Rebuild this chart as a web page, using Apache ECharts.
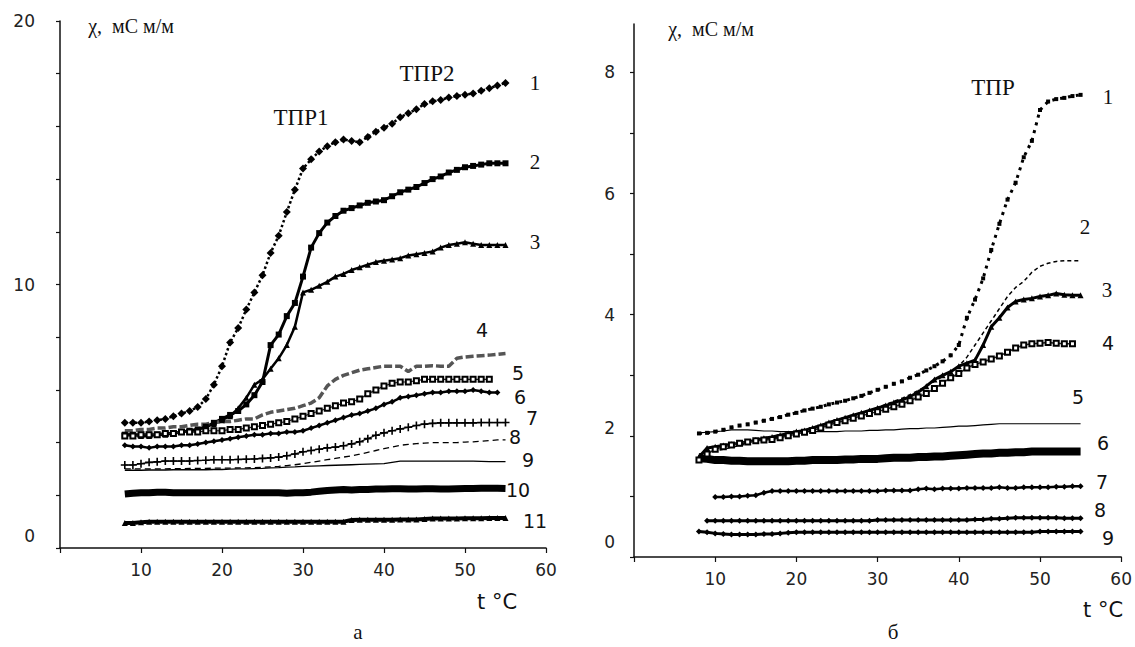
<!DOCTYPE html>
<html><head><meta charset="utf-8">
<script src="https://cdn.jsdelivr.net/npm/echarts@6/dist/echarts.min.js"></script>
<style>html,body{margin:0;padding:0;background:#fff}#c{width:1135px;height:647px}</style>
</head><body><div id="c"></div>
<script>
// temperature, °C
const temps = [8,9,10,11,12,13,14,15,16,17,18,19,20,21,22,23,24,25,26,27,28,29,30,31,32,33,34,35,36,37,38,39,40,41,42,43,44,45,46,47,48,49,50,51,52,53,54,55];

// panel а – conductivity, mS/m
const a1 = [4.75,4.75,4.75,4.8,4.85,4.9,5.0,5.1,5.2,5.35,5.65,6.2,6.9,7.8,8.35,9.05,9.7,10.35,11.2,11.85,12.75,13.6,14.4,14.75,15.05,15.25,15.4,15.5,15.45,15.4,15.6,15.8,15.95,16.1,16.35,16.5,16.65,16.85,16.95,17.0,17.1,17.15,17.2,17.25,17.35,17.45,17.55,17.65];
const a2 = [4.3,4.3,4.3,4.3,4.3,4.35,4.35,4.4,4.45,4.5,4.6,4.75,4.9,5.05,5.2,5.45,5.8,6.3,7.7,8.1,8.8,9.3,10.3,11.4,11.95,12.35,12.6,12.8,12.9,13.0,13.1,13.15,13.2,13.35,13.5,13.6,13.7,13.85,14.0,14.1,14.25,14.35,14.45,14.5,14.55,14.6,14.6,14.6];
const a3 = [4.3,4.3,4.25,4.25,4.3,4.3,4.35,4.4,4.45,4.5,4.6,4.7,4.85,5.0,5.3,5.7,6.2,6.4,6.8,7.2,7.7,8.4,9.7,9.8,9.95,10.1,10.3,10.4,10.55,10.65,10.75,10.85,10.9,10.95,11.0,11.1,11.15,11.2,11.25,11.4,11.5,11.55,11.6,11.55,11.5,11.5,11.5,11.5];
const a4 = [4.45,4.45,4.5,4.5,4.55,4.55,4.6,4.6,4.65,4.7,4.7,4.75,4.8,4.8,4.85,4.9,4.9,5.05,5.15,5.2,5.25,5.3,5.4,5.5,5.7,6.15,6.4,6.55,6.65,6.75,6.8,6.85,6.9,6.9,6.9,6.7,6.9,6.9,6.92,6.9,6.9,7.2,7.25,7.28,7.3,7.32,7.35,7.38];
const a5 = [4.25,4.25,4.3,4.3,4.3,4.35,4.35,4.4,4.4,4.4,4.45,4.45,4.45,4.5,4.5,4.55,4.6,4.65,4.7,4.75,4.8,4.9,5.0,5.1,5.2,5.3,5.4,5.5,5.55,5.65,5.85,6.0,6.15,6.25,6.3,6.3,6.35,6.4,6.4,6.4,6.4,6.4,6.4,6.4,6.4,6.4,null,null];
const a6 = [3.9,3.85,3.85,3.8,3.85,3.85,3.85,3.9,3.9,3.95,4.0,4.05,4.1,4.15,4.2,4.25,4.3,4.3,4.35,4.35,4.4,4.4,4.45,4.55,4.65,4.75,4.85,4.95,5.05,5.1,5.2,5.3,5.45,5.55,5.7,5.75,5.8,5.85,5.9,5.9,5.95,5.95,5.95,6.0,5.95,5.9,5.9,null];
const a7 = [3.15,3.15,3.2,3.25,3.27,3.3,3.3,3.3,3.3,3.32,3.33,3.35,3.35,3.35,3.36,3.37,3.38,3.4,3.42,3.45,3.5,3.57,3.65,3.7,3.75,3.8,3.83,3.88,3.95,4.03,4.15,4.28,4.37,4.45,4.52,4.58,4.65,4.7,4.73,4.75,4.75,4.75,4.75,4.75,4.76,4.76,4.76,4.76];
const a8 = [3.0,3.0,3.0,3.0,3.0,3.0,3.01,3.01,3.02,3.02,3.02,3.03,3.03,3.03,3.04,3.04,3.05,3.06,3.08,3.1,3.13,3.16,3.2,3.25,3.3,3.35,3.4,3.45,3.5,3.56,3.63,3.7,3.77,3.83,3.9,3.93,3.96,3.98,4.0,4.0,4.0,4.0,4.02,4.03,4.05,4.08,4.1,4.1];
const a9 = [2.95,2.95,2.95,2.96,2.96,2.96,2.97,2.97,2.97,2.97,2.97,2.98,2.98,2.99,3.0,3.0,3.01,3.02,3.04,3.05,3.07,3.08,3.1,3.11,3.12,3.13,3.14,3.15,3.16,3.17,3.18,3.19,3.2,3.25,3.3,3.3,3.3,3.3,3.3,3.3,3.3,3.3,3.3,3.3,3.29,3.28,3.28,3.28];
const a10 = [2.05,2.08,2.1,2.1,2.12,2.12,2.1,2.1,2.1,2.1,2.1,2.1,2.1,2.1,2.1,2.1,2.1,2.1,2.1,2.1,2.08,2.1,2.1,2.12,2.15,2.18,2.2,2.22,2.2,2.22,2.22,2.24,2.24,2.25,2.25,2.24,2.24,2.25,2.25,2.24,2.24,2.25,2.26,2.26,2.27,2.27,2.27,2.26];
const a11 = [0.95,0.95,0.98,1.0,1.0,1.0,1.0,1.0,1.0,1.0,1.0,1.0,1.0,1.0,1.0,1.0,1.0,1.0,1.0,1.0,1.0,1.0,1.0,1.0,1.0,1.0,1.0,1.0,1.06,1.07,1.07,1.07,1.07,1.07,1.08,1.08,1.08,1.1,1.12,1.12,1.12,1.12,1.13,1.13,1.13,1.14,1.14,1.14];

// panel б – conductivity, mS/m
const b1 = [2.04,2.05,2.07,2.1,2.14,2.17,2.19,2.22,2.25,2.28,2.31,2.35,2.38,2.42,2.45,2.48,2.52,2.55,2.58,2.62,2.66,2.71,2.76,2.81,2.86,2.9,2.96,3.01,3.08,3.15,3.23,3.33,3.5,3.95,4.25,4.6,5.07,5.5,5.9,6.18,6.6,6.87,7.38,7.52,7.56,7.58,7.61,7.63];
const b2 = [1.7,1.72,1.75,1.78,1.81,1.84,1.87,1.9,1.93,1.96,1.99,2.02,2.06,2.1,2.14,2.18,2.22,2.26,2.3,2.34,2.38,2.42,2.47,2.52,2.57,2.62,2.68,2.75,2.82,2.9,2.98,3.06,3.15,3.3,3.5,3.7,3.9,4.1,4.3,4.45,4.55,4.7,4.8,4.85,4.88,4.89,4.89,4.89];
const b3 = [1.65,1.8,1.82,1.84,1.86,1.88,1.9,1.93,1.96,1.98,2.01,2.04,2.07,2.09,2.13,2.17,2.22,2.26,2.3,2.34,2.38,2.42,2.46,2.5,2.55,2.59,2.65,2.72,2.82,2.93,3.0,3.06,3.15,3.2,3.25,3.5,3.8,3.95,4.12,4.22,4.25,4.27,4.3,4.32,4.35,4.33,4.32,4.32];
const b4 = [1.6,1.7,1.78,1.82,1.85,1.88,1.9,1.92,1.93,1.94,1.97,2.0,2.03,2.06,2.09,2.13,2.18,2.22,2.25,2.29,2.33,2.37,2.4,2.44,2.48,2.52,2.58,2.64,2.7,2.78,2.87,2.96,3.03,3.12,3.18,3.22,3.27,3.32,3.38,3.45,3.5,3.52,3.53,3.54,3.53,3.52,3.52,null];
const b5 = [2.05,2.06,2.07,2.08,2.1,2.1,2.1,2.09,2.08,2.08,2.07,2.07,2.07,2.07,2.07,2.07,2.07,2.07,2.08,2.08,2.08,2.09,2.09,2.1,2.1,2.11,2.12,2.12,2.13,2.13,2.14,2.15,2.16,2.16,2.17,2.18,2.19,2.2,2.2,2.2,2.2,2.2,2.2,2.2,2.2,2.2,2.2,2.2];
const b6 = [1.63,1.62,1.6,1.6,1.59,1.59,1.58,1.58,1.58,1.58,1.58,1.58,1.59,1.59,1.6,1.6,1.6,1.6,1.61,1.61,1.62,1.62,1.62,1.63,1.64,1.64,1.64,1.65,1.65,1.66,1.66,1.67,1.68,1.69,1.7,1.71,1.71,1.72,1.72,1.73,1.73,1.74,1.74,1.74,1.74,1.74,1.74,1.74];
const b7 = [null,null,0.99,0.99,1.0,1.0,1.01,1.02,1.06,1.09,1.09,1.09,1.09,1.09,1.09,1.09,1.09,1.09,1.09,1.09,1.09,1.09,1.09,1.1,1.1,1.1,1.1,1.12,1.13,1.12,1.13,1.13,1.13,1.14,1.14,1.14,1.14,1.15,1.14,1.14,1.15,1.15,1.15,1.15,1.16,1.16,1.17,1.17];
const b8 = [null,0.6,0.6,0.6,0.6,0.6,0.6,0.6,0.6,0.6,0.6,0.6,0.6,0.6,0.6,0.6,0.6,0.6,0.6,0.6,0.6,0.6,0.61,0.61,0.61,0.61,0.61,0.61,0.61,0.61,0.61,0.61,0.61,0.61,0.62,0.62,0.63,0.63,0.64,0.65,0.65,0.65,0.65,0.65,0.65,0.64,0.64,0.64];
const b9 = [0.42,0.41,0.39,0.38,0.37,0.37,0.37,0.37,0.38,0.38,0.39,0.4,0.41,0.41,0.41,0.41,0.41,0.41,0.41,0.41,0.41,0.41,0.41,0.41,0.41,0.41,0.41,0.41,0.41,0.41,0.41,0.41,0.41,0.41,0.41,0.41,0.41,0.41,0.41,0.41,0.41,0.41,0.42,0.42,0.42,0.42,0.42,0.42];

// tick labels
const xTickLabels = [10,20,30,40,50,60];
const yTickLabelsA = [0,10,20];
const yTickLabelsB = [0,2,4,6,8];

const chart = echarts.init(document.getElementById('c'), null, {renderer:'svg'});
const SANS = '"DejaVu Sans", Verdana, sans-serif';
const SERIF = '"Liberation Serif", "Times New Roman", serif';
const PLUS = 'path://M4,0H6V4H10V6H6V10H4V6H0V4H4Z';

function pairs(vals){ const out=[]; temps.forEach((t,i)=>{ if(vals[i]!=null) out.push([t,vals[i]]); }); return out; }
function S(g, vals, o){
  return Object.assign({type:'line', xAxisIndex:g, yAxisIndex:g, data:pairs(vals), symbol:'none', showSymbol:true,
    lineStyle:{color:'#000', width:1}, itemStyle:{color:'#000'}, silent:true, animation:false, z:3}, o);
}

function xAxis(g){
  return {type:'value', gridIndex:g, min:0, max:60, interval:10,
    axisLine:{show:true, onZero:false, lineStyle:{color:'#111', width:1.5}},
    axisTick:{show:true, length:5, lineStyle:{color:'#111', width:1.2}},
    splitLine:{show:false},
    axisLabel:{margin:13, color:'#222', fontSize:17, fontFamily:SANS,
      formatter:v=> xTickLabels.includes(v) ? String(v) : ''}};
}
const yA = {type:'value', gridIndex:0, min:0, max:20, interval:2,
  axisLine:{show:true, onZero:false, lineStyle:{color:'#111', width:1.5}},
  axisTick:{show:true, length:4, lineStyle:{color:'#111', width:1.2}},
  splitLine:{show:false},
  axisLabel:{margin:25, color:'#222', fontSize:17, fontFamily:SANS,
    formatter:v=> v===0 ? '{z|0}' : (yTickLabelsA.includes(v) ? String(v) : ''),
    rich:{z:{fontSize:17, fontFamily:SANS, color:'#222', padding:[0,0,24,0]}}}};
const yB = {type:'value', gridIndex:1, min:0, max:8.8, interval:1,
  axisLine:{show:true, onZero:false, lineStyle:{color:'#111', width:1.5}},
  axisTick:{show:true, length:4, lineStyle:{color:'#111', width:1.2}},
  splitLine:{show:false},
  axisLabel:{margin:19, color:'#222', fontSize:17, fontFamily:SANS, showMaxLabel:false,
    formatter:v=> v===0 ? '{z|0}' : v===2 ? '{w|2}' : (yTickLabelsB.includes(v) ? String(v) : ''),
    rich:{z:{fontSize:17, fontFamily:SANS, color:'#222', padding:[0,0,30,0]},
          w:{fontSize:17, fontFamily:SANS, color:'#222', padding:[0,0,16,0]}}}};

function T(text, x, y, font, size, extra){
  return Object.assign({type:'text', x:x, y:y, silent:true, z:10,
    style:{text:text, fill:'#111', font: size+'px '+font, align:'center', verticalAlign:'middle'}}, extra||{});
}

const labels = [
  T('χ,  мС м/м', 131, 26, SERIF, 20),
  T('χ,  мС м/м', 711, 29, SERIF, 20),
  T('ТПР1', 301, 117, SERIF, 23),
  T('ТПР2', 427, 73, SERIF, 23),
  T('ТПР', 993, 87, SERIF, 23),
  T('1', 535, 83, SERIF, 21), T('2', 535, 162, SERIF, 21), T('3', 535, 242, SERIF, 21),
  T('4', 482, 330, SANS, 19), T('5', 518, 373, SANS, 19), T('6', 520, 397, SANS, 19),
  T('7', 532, 418, SANS, 19), T('8', 515, 437, SANS, 19), T('9', 528, 460, SANS, 19),
  T('10', 518, 490, SANS, 19), T('11', 535, 521, SANS, 19),
  T('1', 1108, 97, SERIF, 21), T('2', 1085, 227, SERIF, 21), T('3', 1107, 290, SERIF, 21),
  T('4', 1108, 343, SANS, 19), T('5', 1078, 397, SANS, 19), T('6', 1103, 443, SANS, 19),
  T('7', 1102, 482, SANS, 19), T('8', 1100, 510, SANS, 19), T('9', 1108, 538, SANS, 19),
  T('t °C', 497, 602, SANS, 21), T('t °C', 1103, 610, SANS, 21),
  T('а', 358, 632, SERIF, 21), T('б', 893, 632, SERIF, 21)
];

chart.setOption({
  backgroundColor:'#fff',
  animation:false,
  grid:[
    {left:60, right:589, top:21, bottom:99, containLabel:false},
    {left:634, right:11, top:24, bottom:90, containLabel:false}
  ],
  xAxis:[xAxis(0), xAxis(1)],
  yAxis:[yA, yB],
  graphic:{elements:labels},
  series:[
    S(0,a1,{symbol:'diamond', symbolSize:8, lineStyle:{color:'#000', width:2.5, type:'dotted'}}),
    S(0,a2,{symbol:'rect', symbolSize:6, lineStyle:{color:'#000', width:3}}),
    S(0,a3,{symbol:'triangle', symbolSize:6, lineStyle:{color:'#000', width:2.5}}),
    S(0,a4,{lineStyle:{color:'#555', width:3.5, type:[8,3]}}),
    S(0,a5,{symbol:'emptyRect', symbolSize:5, itemStyle:{color:'#000', borderWidth:1.2}, lineStyle:{color:'#222', width:1.2}}),
    S(0,a6,{symbol:'diamond', symbolSize:6, lineStyle:{color:'#000', width:2.5}}),
    S(0,a7,{symbol:PLUS, symbolSize:8, lineStyle:{color:'#000', width:1.2}}),
    S(0,a8,{lineStyle:{color:'#000', width:1.3, type:[6,4]}}),
    S(0,a9,{lineStyle:{color:'#000', width:1.3}}),
    S(0,a10,{lineStyle:{color:'#000', width:7}}),
    S(0,a11,{symbol:'triangle', symbolSize:6, lineStyle:{color:'#000', width:4}}),

    S(1,b1,{symbol:'rect', symbolSize:4, lineStyle:{color:'#000', width:3, type:[3,5]}}),
    S(1,b2,{lineStyle:{color:'#000', width:1.5, type:[4,3]}}),
    S(1,b3,{symbol:'triangle', symbolSize:6, lineStyle:{color:'#000', width:3}}),
    S(1,b4,{symbol:'emptyRect', symbolSize:5, itemStyle:{color:'#000', borderWidth:1.2}, lineStyle:{color:'#222', width:1.5}}),
    S(1,b5,{lineStyle:{color:'#000', width:1.2}}),
    S(1,b6,{lineStyle:{color:'#000', width:8}}),
    S(1,b7,{symbol:'diamond', symbolSize:6, lineStyle:{color:'#000', width:2.5}}),
    S(1,b8,{symbol:'diamond', symbolSize:6, lineStyle:{color:'#000', width:3}}),
    S(1,b9,{symbol:'diamond', symbolSize:6, lineStyle:{color:'#000', width:3}})
  ]
});
</script></body></html>
